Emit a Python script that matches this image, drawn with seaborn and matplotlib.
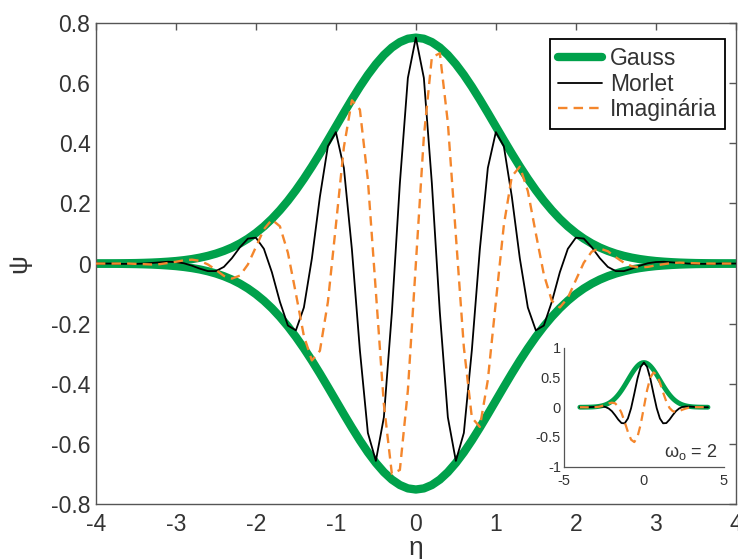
import matplotlib
matplotlib.use("Agg")
import matplotlib.pyplot as plt
import seaborn as sns
import numpy as np

# eta grid of the main plot (step 0.1)
eta = [-4.0, -3.9, -3.8, -3.7, -3.6, -3.5, -3.4, -3.3, -3.2, -3.1,
       -3.0, -2.9, -2.8, -2.7, -2.6, -2.5, -2.4, -2.3, -2.2, -2.1,
       -2.0, -1.9, -1.8, -1.7, -1.6, -1.5, -1.4, -1.3, -1.2, -1.1,
       -1.0, -0.9, -0.8, -0.7, -0.6, -0.5, -0.4, -0.3, -0.2, -0.1,
       0.0,
       0.1, 0.2, 0.3, 0.4, 0.5, 0.6, 0.7, 0.8, 0.9, 1.0,
       1.1, 1.2, 1.3, 1.4, 1.5, 1.6, 1.7, 1.8, 1.9, 2.0,
       2.1, 2.2, 2.3, 2.4, 2.5, 2.6, 2.7, 2.8, 2.9, 3.0,
       3.1, 3.2, 3.3, 3.4, 3.5, 3.6, 3.7, 3.8, 3.9, 4.0]

gauss = [0.0003, 0.0004, 0.0005, 0.0008, 0.0012, 0.0016, 0.0023, 0.0032, 0.0045, 0.0062,
         0.0083, 0.0112, 0.0149, 0.0196, 0.0256, 0.0330, 0.0422, 0.0533, 0.0668, 0.0828,
         0.1017, 0.1235, 0.1486, 0.1771, 0.2088, 0.2438, 0.2819, 0.3226, 0.3656, 0.4102,
         0.4556, 0.5010, 0.5454, 0.5879, 0.6274, 0.6628, 0.6934, 0.7181, 0.7362, 0.7474,
         0.7511,
         0.7474, 0.7362, 0.7181, 0.6934, 0.6628, 0.6274, 0.5879, 0.5454, 0.5010, 0.4556,
         0.4102, 0.3656, 0.3226, 0.2819, 0.2438, 0.2088, 0.1771, 0.1486, 0.1235, 0.1017,
         0.0828, 0.0668, 0.0533, 0.0422, 0.0330, 0.0256, 0.0196, 0.0149, 0.0112, 0.0083,
         0.0062, 0.0045, 0.0032, 0.0023, 0.0016, 0.0012, 0.0008, 0.0005, 0.0004, 0.0003]

morlet = [0.000, 0.000, 0.000, -0.001, -0.001, -0.001, 0.000, 0.002, 0.004, 0.006,
          0.005, 0.001, -0.007, -0.017, -0.025, -0.025, -0.011, 0.018, 0.054, 0.083,
          0.086, 0.049, -0.029, -0.127, -0.206, -0.222, -0.146, 0.017, 0.222, 0.390,
          0.437, 0.318, 0.048, -0.288, -0.563, -0.656, -0.511, -0.163, 0.267, 0.617,
          0.751,
          0.617, 0.267, -0.163, -0.511, -0.656, -0.563, -0.288, 0.048, 0.318, 0.437,
          0.390, 0.222, 0.017, -0.146, -0.222, -0.206, -0.127, -0.029, 0.049, 0.086,
          0.083, 0.054, 0.018, -0.011, -0.025, -0.025, -0.017, -0.007, 0.001, 0.005,
          0.006, 0.004, 0.002, 0.000, -0.001, -0.001, -0.001, 0.000, 0.000, 0.000]

imaginaria = [0.000, 0.000, 0.000, 0.000, 0.000, -0.001, -0.002, -0.003, -0.002, 0.002,
              0.006, 0.011, 0.013, 0.009, -0.003, -0.021, -0.041, -0.050, -0.040, -0.003,
              0.055, 0.114, 0.146, 0.124, 0.036, -0.100, -0.241, -0.322, -0.290, -0.128,
              0.127, 0.387, 0.543, 0.512, 0.278, -0.094, -0.468, -0.699, -0.686, -0.422,
              0.000,
              0.422, 0.686, 0.699, 0.468, 0.094, -0.278, -0.512, -0.543, -0.387, -0.127,
              0.128, 0.290, 0.322, 0.241, 0.100, -0.036, -0.124, -0.146, -0.114, -0.055,
              0.003, 0.040, 0.050, 0.041, 0.021, 0.003, -0.009, -0.013, -0.011, -0.006,
              -0.002, 0.002, 0.003, 0.002, 0.001, 0.000, 0.000, 0.000, 0.000, 0.000]

# inset, omega_o = 2 (step 0.2)
eta_inset = [-4.0, -3.8, -3.6, -3.4, -3.2, -3.0, -2.8, -2.6, -2.4, -2.2,
             -2.0, -1.8, -1.6, -1.4, -1.2, -1.0, -0.8, -0.6, -0.4, -0.2,
             0.0,
             0.2, 0.4, 0.6, 0.8, 1.0, 1.2, 1.4, 1.6, 1.8, 2.0,
             2.2, 2.4, 2.6, 2.8, 3.0, 3.2, 3.4, 3.6, 3.8, 4.0]

morlet_inset = [0.000, 0.000, 0.001, 0.002, 0.004, 0.008, 0.012, 0.012, 0.004, -0.021,
                -0.066, -0.133, -0.208, -0.266, -0.270, -0.190, -0.016, 0.227, 0.483, 0.678,
                0.751,
                0.678, 0.483, 0.227, -0.016, -0.190, -0.270, -0.266, -0.208, -0.133, -0.066,
                -0.021, 0.004, 0.012, 0.012, 0.008, 0.004, 0.002, 0.001, 0.000, 0.000]

imag_inset = [0.000, 0.000, -0.001, -0.001, -0.001, 0.002, 0.009, 0.023, 0.042, 0.064,
              0.077, 0.066, 0.012, -0.094, -0.247, -0.414, -0.545, -0.585, -0.497, -0.287,
              0.000,
              0.287, 0.497, 0.585, 0.545, 0.414, 0.247, 0.094, -0.012, -0.066, -0.077,
              -0.064, -0.042, -0.023, -0.009, -0.002, 0.001, 0.001, 0.001, 0.000, 0.000]

xticks = [-4, -3, -2, -1, 0, 1, 2, 3, 4]
yticks = [-0.8, -0.6, -0.4, -0.2, 0, 0.2, 0.4, 0.6, 0.8]
ytick_labels = ["-0.8", "-0.6", "-0.4", "-0.2", "0", "0.2", "0.4", "0.6", "0.8"]

GREEN = "#00A14B"
ORANGE = "#F4862C"
AXIS = "#555555"
TEXT = "#333333"

sns.set_theme(style="white")
plt.rcParams["font.family"] = ["Liberation Sans", "DejaVu Sans"]
plt.rcParams["axes.unicode_minus"] = False

fig = plt.figure(figsize=(7.38, 5.59), dpi=100)
ax = fig.add_axes([0.130, 0.098, 0.867, 0.861])

lower = -np.array(gauss)
sns.lineplot(x=eta, y=gauss, ax=ax, color=GREEN, lw=6, label="Gauss",
             estimator=None, sort=False, zorder=2)
sns.lineplot(x=eta, y=lower, ax=ax, color=GREEN, lw=6,
             estimator=None, sort=False, zorder=2)
sns.lineplot(x=eta, y=morlet, ax=ax, color="black", lw=1.3, label="Morlet",
             estimator=None, sort=False, zorder=3)
sns.lineplot(x=eta, y=imaginaria, ax=ax, color=ORANGE, lw=1.7, label="Imaginária",
             linestyle=(0, (4, 2.6)), estimator=None, sort=False, zorder=4)

ax.set_xlim(-4, 4)
ax.set_ylim(-0.8, 0.8)
ax.set_xticks(xticks)
ax.set_xticklabels([str(t) for t in xticks])
ax.set_yticks(yticks)
ax.set_yticklabels(ytick_labels)
ax.tick_params(direction="in", length=5, width=1, top=True, right=True,
               color=AXIS, labelcolor=TEXT, labelsize=16.5)
ax.tick_params(axis="x", pad=6)
ax.tick_params(axis="y", pad=4)
for s in ax.spines.values():
    s.set_color(AXIS)
    s.set_linewidth(1)
ax.set_xlabel("η", fontsize=19, color=TEXT, labelpad=0)
ax.set_ylabel("ψ", fontsize=19, color=TEXT, labelpad=14)

handles, labels = ax.get_legend_handles_labels()
leg = ax.legend(handles[:3], labels[:3], loc="upper right", bbox_to_anchor=(0.983, 0.967),
                borderaxespad=0, fancybox=False, edgecolor="black", framealpha=1,
                fontsize=16.5, handlelength=1.9, handletextpad=0.35,
                labelspacing=0.12, borderpad=0.35)
leg.get_frame().set_linewidth(1.3)
for t in leg.get_texts():
    t.set_color(TEXT)

# inset
axi = fig.add_axes([0.764, 0.165, 0.217, 0.213])
axi.set_facecolor("white")
sns.lineplot(x=eta, y=gauss, ax=axi, color=GREEN, lw=3.5,
             estimator=None, sort=False, zorder=2)
sns.lineplot(x=eta_inset, y=morlet_inset, ax=axi, color="black", lw=1.3,
             estimator=None, sort=False, zorder=3)
sns.lineplot(x=eta_inset, y=imag_inset, ax=axi, color=ORANGE, lw=1.6,
             linestyle=(0, (4, 2.6)), estimator=None, sort=False, zorder=4)
axi.set_xlim(-5, 5)
axi.set_ylim(-1, 1)
axi.set_xticks([-5, 0, 5])
axi.set_xticklabels(["-5", "0", "5"])
axi.set_yticks([-1, -0.5, 0, 0.5, 1])
axi.set_yticklabels(["-1", "-0.5", "0", "0.5", "1"])
axi.tick_params(direction="in", length=3, width=0.8, color=AXIS, labelcolor=TEXT,
                labelsize=10.5)
axi.tick_params(axis="x", pad=5)
axi.tick_params(axis="y", pad=2)
for side in ["top", "right"]:
    axi.spines[side].set_visible(False)
for side in ["left", "bottom"]:
    axi.spines[side].set_color(AXIS)
    axi.spines[side].set_linewidth(0.9)
axi.text(0.96, 0.12, "ω$_\\mathregular{o}$ = 2", transform=axi.transAxes,
         ha="right", va="center", fontsize=13, color=TEXT)
if axi.get_legend() is not None:
    axi.get_legend().remove()

fig.savefig("out.png", dpi=100)
